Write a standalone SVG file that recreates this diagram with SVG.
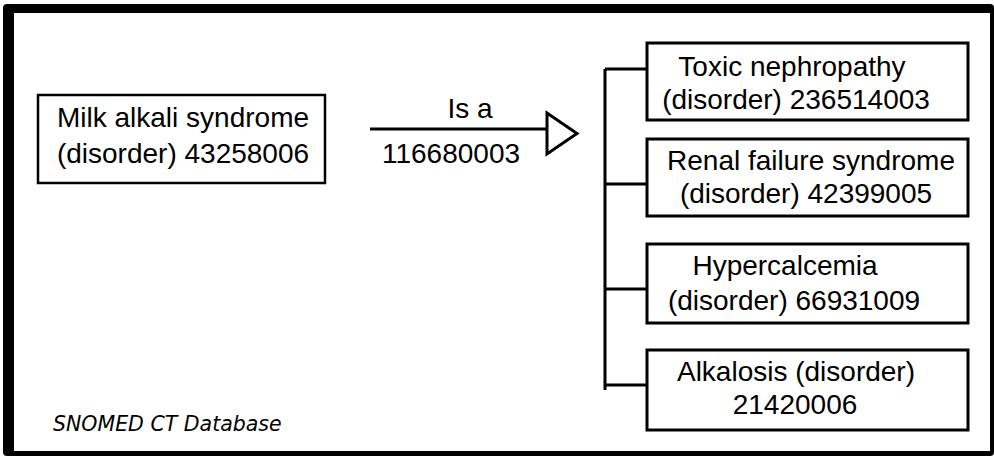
<svg xmlns="http://www.w3.org/2000/svg" width="994" height="456" viewBox="0 0 994 456">
<style>
.box{fill:#fff;stroke:#000;stroke-width:3}
.t{font-family:"Liberation Sans",Arial,sans-serif;font-size:28px;fill:#000;text-anchor:middle}
.c{fill:none;stroke:#000;stroke-width:3}
.note{font-family:"DejaVu Sans",Verdana,sans-serif;font-style:italic;font-size:20.5px;fill:#000}
</style>
<g id="frame">
<rect x="3" y="4" width="991" height="452" rx="4" fill="#000"/>
<rect x="14" y="13" width="976" height="438" fill="#fff"/>
</g>
<g id="connectors">
<line class="c" x1="370" y1="129" x2="547" y2="129"/>
<polygon class="c" points="547,113 577,133.5 547,154" style="fill:#fff"/>
<text class="t" x="470" y="118">Is a</text>
<text class="t" x="451" y="163">116680003</text>
<line class="c" x1="605" y1="69" x2="605" y2="390"/>
<line class="c" x1="605" y1="69" x2="647" y2="69"/>
<line class="c" x1="605" y1="184" x2="647" y2="184"/>
<line class="c" x1="605" y1="289" x2="647" y2="289"/>
<line class="c" x1="605" y1="385" x2="647" y2="385"/>
</g>
<g id="milk-alkali">
<rect class="box" x="38" y="95" width="287" height="88" style="stroke-width:2.5"/>
<text class="t" x="183" y="127">Milk alkali syndrome</text>
<text class="t" x="183" y="163">(disorder) 43258006</text>
</g>
<g id="toxic-nephropathy">
<rect class="box" x="647" y="43" width="321" height="77"/>
<text class="t" x="792" y="76">Toxic nephropathy</text>
<text class="t" x="796" y="109">(disorder) 236514003</text>
</g>
<g id="renal-failure">
<rect class="box" x="647" y="139" width="321" height="77"/>
<text class="t" x="811" y="170">Renal failure syndrome</text>
<text class="t" x="806" y="203">(disorder) 42399005</text>
</g>
<g id="hypercalcemia">
<rect class="box" x="647" y="244" width="321" height="79"/>
<text class="t" x="785" y="275">Hypercalcemia</text>
<text class="t" x="794" y="310">(disorder) 66931009</text>
</g>
<g id="alkalosis">
<rect class="box" x="647" y="350" width="321" height="80"/>
<text class="t" x="796" y="381">Alkalosis (disorder)</text>
<text class="t" x="795" y="414">21420006</text>
</g>
<text class="note" x="53" y="431">SNOMED CT Database</text>
</svg>
